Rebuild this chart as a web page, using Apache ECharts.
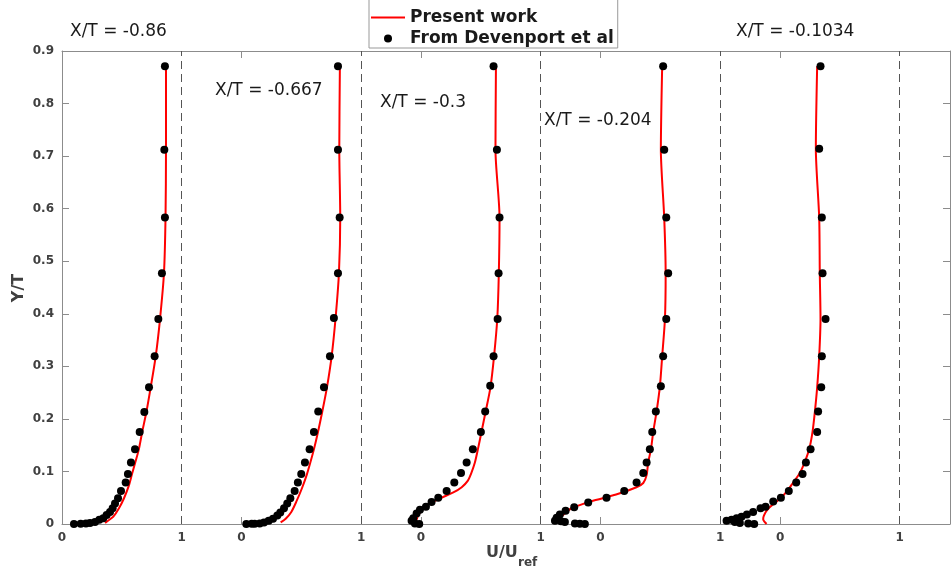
<!DOCTYPE html>
<html>
<head>
<meta charset="utf-8">
<script src="https://cdn.jsdelivr.net/npm/echarts@6/dist/echarts.min.js"></script>
<style>
html,body{margin:0;padding:0;background:#fff;}
#chart{width:951px;height:568px;}
</style>
</head>
<body>
<div id="chart"></div>
<script>
// Panel offsets along the shared x axis (each profile shifted by 1.5 units)
const offsets = [0, 1.5, 3, 4.5, 6];
const dashX = [1, 2.5, 4, 5.5, 7];
const stationLabels = ['X/T = -0.86', 'X/T = -0.667', 'X/T = -0.3', 'X/T = -0.204', 'X/T = -0.1034'];
const yTicks = [0, 0.1, 0.2, 0.3, 0.4, 0.5, 0.6, 0.7, 0.8, 0.9];

// Experimental data (From Devenport et al): U/Uref and Y/T
const expU1 = [0.860,0.855,0.860,0.835,0.805,0.774,0.727,0.688,0.649,0.610,0.576,0.551,0.532,0.493,0.468,0.443,0.423,0.401,0.373,0.345,0.312,0.276,0.234,0.200,0.156,0.100];
const expY1 = [0.871,0.712,0.583,0.477,0.390,0.319,0.260,0.213,0.175,0.142,0.117,0.095,0.079,0.063,0.049,0.039,0.030,0.023,0.017,0.011,0.008,0.004,0.002,0.001,0.0005,0];
const expU2 = [0.806,0.806,0.820,0.806,0.772,0.739,0.689,0.641,0.605,0.569,0.530,0.499,0.471,0.444,0.408,0.382,0.355,0.324,0.299,0.263,0.227,0.188,0.152,0.110,0.085,0.040];
const expY2 = [0.871,0.712,0.583,0.477,0.392,0.319,0.260,0.214,0.175,0.142,0.117,0.095,0.079,0.063,0.049,0.039,0.030,0.022,0.016,0.010,0.006,0.003,0.001,0.0005,0.0003,0];
const expU3 = [0.606,0.634,0.656,0.648,0.640,0.606,0.578,0.536,0.500,0.433,0.381,0.334,0.278,0.214,0.144,0.088,0.041,-0.009,-0.037,-0.065,-0.079,-0.051,-0.015];
const expY3 = [0.871,0.712,0.583,0.477,0.390,0.319,0.263,0.214,0.175,0.142,0.117,0.097,0.079,0.063,0.050,0.042,0.033,0.027,0.020,0.011,0.006,0.001,0];
const expU4 = [0.523,0.532,0.549,0.565,0.549,0.523,0.504,0.462,0.432,0.412,0.385,0.357,0.301,0.198,0.050,-0.103,-0.220,-0.292,-0.340,-0.367,-0.381,-0.330,-0.298,-0.214,-0.173,-0.131];
const expY4 = [0.871,0.712,0.583,0.477,0.390,0.319,0.262,0.214,0.175,0.142,0.117,0.097,0.079,0.063,0.050,0.041,0.032,0.025,0.018,0.012,0.006,0.005,0.004,0.001,0.0005,0];
const expU5 = [0.338,0.327,0.349,0.355,0.380,0.349,0.344,0.318,0.310,0.255,0.216,0.188,0.135,0.073,0.007,-0.057,-0.121,-0.163,-0.225,-0.277,-0.322,-0.363,-0.405,-0.447,-0.378,-0.336,-0.266,-0.216];
const expY5 = [0.871,0.714,0.583,0.477,0.390,0.319,0.260,0.214,0.175,0.142,0.117,0.095,0.079,0.063,0.050,0.043,0.033,0.030,0.023,0.018,0.014,0.011,0.008,0.006,0.004,0.002,0.001,0];

// Simulation (Present work): U/Uref and Y/T
const simU1 = [0.360,0.395,0.429,0.476,0.518,0.560,0.585,0.612,0.642,0.670,0.705,0.741,0.783,0.819,0.852,0.865,0.869,0.869];
const simY1 = [0.002,0.008,0.014,0.030,0.049,0.074,0.095,0.117,0.142,0.175,0.213,0.260,0.319,0.390,0.477,0.583,0.712,0.871];
const simU2 = [0.327,0.369,0.416,0.457,0.505,0.547,0.575,0.605,0.639,0.675,0.714,0.753,0.786,0.814,0.825,0.817,0.822];
const simY2 = [0.003,0.010,0.023,0.042,0.068,0.095,0.117,0.142,0.175,0.214,0.260,0.319,0.392,0.477,0.583,0.712,0.871];
const simU3 = [-0.037,-0.025,0.015,0.080,0.170,0.270,0.340,0.390,0.420,0.450,0.475,0.505,0.540,0.580,0.610,0.637,0.650,0.656,0.622,0.626];
const simY3 = [0.008,0.016,0.028,0.040,0.050,0.060,0.070,0.082,0.097,0.117,0.142,0.175,0.214,0.260,0.319,0.390,0.477,0.583,0.712,0.871];
const simU4 = [-0.280,-0.350,-0.330,-0.250,-0.080,0.130,0.300,0.357,0.385,0.398,0.421,0.440,0.468,0.496,0.515,0.538,0.544,0.532,0.504,0.515];
const simY4 = [0.006,0.011,0.014,0.029,0.043,0.056,0.070,0.078,0.093,0.117,0.142,0.175,0.214,0.262,0.319,0.390,0.477,0.583,0.712,0.871];
const simU5 = [-0.113,-0.141,-0.135,-0.110,-0.060,0.000,0.060,0.110,0.160,0.205,0.243,0.271,0.291,0.310,0.327,0.338,0.332,0.327,0.299,0.310];
const simY5 = [0.000,0.009,0.016,0.026,0.037,0.048,0.063,0.079,0.095,0.117,0.142,0.175,0.214,0.260,0.319,0.390,0.477,0.583,0.714,0.871];

const expU = [expU1, expU2, expU3, expU4, expU5];
const expY = [expY1, expY2, expY3, expY4, expY5];
const simU = [simU1, simU2, simU3, simU4, simU5];
const simY = [simY1, simY2, simY3, simY4, simY5];

const labelColor = '#404040';
const axisColor = '#8c8c8c';
const X_MAX = 7.42;

const series = [];
for (let k = 0; k < 5; k++) {
  series.push({
    name: 'Present work',
    type: 'line',
    data: simU[k].map((u, i) => [u + offsets[k], simY[k][i]]),
    symbol: 'none',
    showSymbol: false,
    smooth: 0.25,
    lineStyle: { color: '#ff0000', width: 2 },
    itemStyle: { color: '#ff0000' },
    z: 3,
    animation: false
  });
}
for (let k = 0; k < 5; k++) {
  const s = {
    name: 'From Devenport et al',
    type: 'scatter',
    data: expU[k].map((u, i) => [u + offsets[k], expY[k][i]]),
    symbol: 'circle',
    symbolSize: 8,
    itemStyle: { color: '#000000', opacity: 1 },
    z: 4,
    animation: false
  };
  if (k === 0) {
    s.markLine = {
      silent: true,
      symbol: 'none',
      label: { show: false },
      lineStyle: { type: [8, 5], color: '#555555', width: 1 },
      data: dashX.map(v => ({ xAxis: v })),
      animation: false
    };
  }
  series.push(s);
}

const zeroTicks = offsets.slice();
const labelVals = [];
offsets.forEach((o, i) => { labelVals.push(o); labelVals.push(dashX[i]); });

const textPos = [[70, 33], [215, 92], [380, 104], [544, 122], [736, 33]];
const graphics = stationLabels.map((t, i) => ({
  type: 'text',
  left: textPos[i][0],
  top: textPos[i][1] - 10,
  style: { text: t, font: '17px "DejaVu Sans"', fill: '#1a1a1a' },
  z: 10
}));
graphics.push({
  type: 'text', x: 19, y: 288, rotation: Math.PI / 2,
  style: { text: 'Y/T', font: 'bold 16px "DejaVu Sans"', fill: labelColor, align: 'center', verticalAlign: 'middle' }
});
graphics.push({
  type: 'text', x: 486, y: 553,
  style: { text: 'U/U', font: 'bold 16px "DejaVu Sans"', fill: labelColor, align: 'left', verticalAlign: 'middle' }
});
graphics.push({
  type: 'text', x: 518, y: 563,
  style: { text: 'ref', font: 'bold 12px "DejaVu Sans"', fill: labelColor, align: 'left', verticalAlign: 'middle' }
});

const chart = echarts.init(document.getElementById('chart'), null, { renderer: 'canvas' });
chart.setOption({
  animation: false,
  backgroundColor: '#ffffff',
  grid: { left: 62, top: 51, right: 1, bottom: 44, containLabel: false },
  legend: {
    data: [
      { name: 'Present work', icon: 'path://M0,0 L34,0 L34,2 L0,2 Z' },
      { name: 'From Devenport et al', icon: 'circle' }
    ],
    orient: 'vertical',
    left: 369,
    top: -8,
    itemWidth: 34,
    itemHeight: 8,
    itemGap: 4,
    symbolKeepAspect: true,
    padding: [17, 4, 1, 2],
    borderColor: '#999999',
    borderWidth: 1,
    backgroundColor: '#ffffff',
    textStyle: { fontFamily: 'DejaVu Sans', fontWeight: 'bold', fontSize: 17, color: '#1a1a1a', lineHeight: 17 },
    z: 20
  },
  xAxis: [{
    type: 'value', min: 0, max: X_MAX, position: 'bottom',
    axisLine: { show: true, lineStyle: { color: axisColor, width: 1 } },
    axisTick: { show: true, inside: true, length: 7, customValues: zeroTicks, lineStyle: { color: axisColor } },
    axisLabel: {
      show: true, customValues: labelVals, margin: 8,
      formatter: v => (offsets.some(o => Math.abs(o - v) < 1e-6) ? '0' : '1'),
      fontFamily: 'DejaVu Sans', fontWeight: 'bold', fontSize: 12, color: labelColor
    },
    splitLine: { show: false }
  }, {
    type: 'value', min: 0, max: X_MAX, position: 'top',
    axisLine: { show: true, onZero: false, lineStyle: { color: axisColor, width: 1 } },
    axisTick: { show: true, inside: true, length: 7, customValues: zeroTicks, lineStyle: { color: axisColor } },
    axisLabel: { show: false },
    splitLine: { show: false }
  }],
  yAxis: [{
    type: 'value', min: 0, max: 0.9, interval: 0.1, position: 'left',
    axisLine: { show: true, onZero: false, lineStyle: { color: axisColor, width: 1 } },
    axisTick: { show: true, inside: true, length: 7, lineStyle: { color: axisColor } },
    axisLabel: {
      show: true, margin: 8,
      formatter: v => String(Math.round(v * 10) / 10),
      fontFamily: 'DejaVu Sans', fontWeight: 'bold', fontSize: 12, color: labelColor
    },
    splitLine: { show: false }
  }, {
    type: 'value', min: 0, max: 0.9, interval: 0.1, position: 'right',
    axisLine: { show: true, onZero: false, lineStyle: { color: axisColor, width: 1 } },
    axisTick: { show: true, inside: true, length: 7, lineStyle: { color: axisColor } },
    axisLabel: { show: false },
    splitLine: { show: false }
  }],
  graphic: graphics,
  series: series
});
</script>
</body>
</html>
